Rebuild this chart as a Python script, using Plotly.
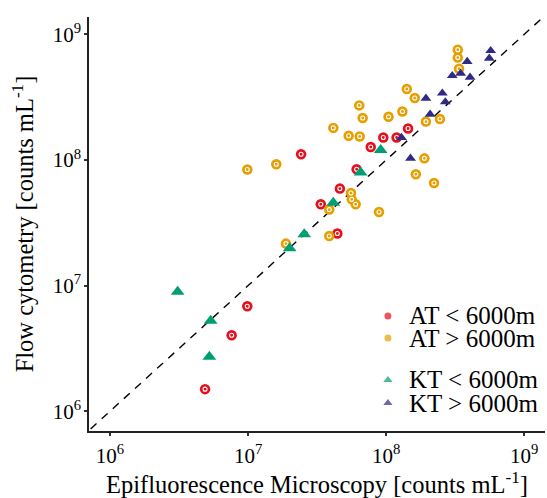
import plotly.graph_objects as go

# ---------------- data (counts per mL) ----------------
at_shallow_x = [4.88e6, 7.6e6, 9.87e6, 2.42e7, 3.36e7, 4.43e7, 4.62e7, 6.11e7, 7.73e7, 9.53e7, 1.19e8, 1.44e8]
at_shallow_y = [1.50e6, 4.03e6, 6.86e6, 1.11e8, 4.44e7, 2.60e7, 5.92e7, 8.43e7, 1.27e8, 1.51e8, 1.51e8, 1.78e8]

at_deep_x = [9.87e6, 1.60e7, 3.30e8, 3.30e8, 3.37e8, 1.41e8, 1.61e8, 6.38e7, 6.76e7, 1.31e8, 1.04e8, 1.94e8, 2.45e8,
             4.14e7, 5.35e7, 6.43e7, 1.89e8, 1.64e8, 2.22e8, 5.56e7, 5.63e7, 6.01e7, 3.87e7, 8.87e7, 3.87e7, 1.88e7]
at_deep_y = [8.39e7, 9.25e7, 7.55e8, 6.53e8, 5.33e8, 3.67e8, 3.11e8, 2.72e8, 2.16e8, 2.43e8, 2.21e8, 2.02e8, 2.12e8,
             1.80e8, 1.56e8, 1.54e8, 1.03e8, 7.69e7, 6.56e7, 5.46e7, 4.86e7, 4.44e7, 4.03e7, 3.86e7, 2.48e7, 2.16e7]

kt_shallow_x = [3.09e6, 5.36e6, 5.24e6, 9.12e7, 6.53e7, 4.14e7, 2.55e7, 2.00e7]
kt_shallow_y = [8.93e6, 5.26e6, 2.72e6, 1.20e8, 7.96e7, 4.57e7, 2.56e7, 1.98e7]

kt_deep_x = [5.71e8, 5.58e8, 3.86e8, 3.01e8, 3.46e8, 4.05e8, 1.94e8, 2.55e8, 2.68e8, 2.08e8, 1.29e8, 1.50e8]
kt_deep_y = [7.41e8, 6.44e8, 6.07e8, 4.69e8, 4.90e8, 4.55e8, 3.10e8, 3.40e8, 2.90e8, 2.31e8, 1.51e8, 1.03e8]

one_to_one = [5e5, 2e9]

tick_values = [1e6, 1e7, 1e8, 1e9]
tick_labels = ["10<sup>6</sup>", "10<sup>7</sup>", "10<sup>8</sup>", "10<sup>9</sup>"]

legend_labels = ["AT &lt; 6000m", "AT &gt; 6000m", "KT &lt; 6000m", "KT &gt; 6000m"]

# ---------------- styles ----------------
RED = "#E3101E"
ORANGE = "#E69F00"
GREEN = "#009E73"
NAVY = "#2E2A85"
FONT = "Liberation Serif"

fig = go.Figure()

fig.add_trace(go.Scatter(x=one_to_one, y=one_to_one, mode="lines",
                         line=dict(color="black", width=1.4, dash="8px,7px"),
                         hoverinfo="skip", showlegend=False))

def circles(x, y, color, name):
    fig.add_trace(go.Scatter(x=x, y=y, mode="markers", name=name, showlegend=False,
                             marker=dict(symbol="circle", size=10.5, color=color, line=dict(width=0))))
    fig.add_trace(go.Scatter(x=x, y=y, mode="markers", showlegend=False, hoverinfo="skip",
                             marker=dict(symbol="circle-open", size=4, color="white", line=dict(width=1.1, color="white"))))

circles(at_shallow_x, at_shallow_y, RED, "AT < 6000m")
circles(at_deep_x, at_deep_y, ORANGE, "AT > 6000m")
fig.add_trace(go.Scatter(x=kt_shallow_x, y=kt_shallow_y, mode="markers", name="KT < 6000m", showlegend=False,
                         marker=dict(symbol="triangle-up", size=12, color=GREEN, line=dict(width=0))))
fig.add_trace(go.Scatter(x=kt_deep_x, y=kt_deep_y, mode="markers", name="KT > 6000m", showlegend=False,
                         marker=dict(symbol="triangle-up", size=9.5, color=NAVY, line=dict(width=0))))

# legend keys (drawn on an invisible overlay axis in plot-fraction units)
legend_key_x = 0.6555
legend_rows = [0.2778, 0.2246, 0.1232, 0.0676]
fig.add_trace(go.Scatter(x=[legend_key_x] * 4, y=legend_rows, xaxis="x2", yaxis="y2", mode="markers",
                         hoverinfo="skip", showlegend=False,
                         marker=dict(symbol=["circle", "circle", "triangle-up", "triangle-up"],
                                     size=[7, 7, 8, 8], color=[RED, ORANGE, GREEN, NAVY], line=dict(width=0))))
for lab, yy in zip(legend_labels, legend_rows):
    fig.add_annotation(x=0.697, y=yy, xref="paper", yref="paper", text=lab, showarrow=False,
                       xanchor="left", yanchor="middle", font=dict(family=FONT, size=25, color="black"))

axis_common = dict(type="log", showgrid=False, zeroline=False, showline=True, linecolor="#222", linewidth=1.5,
                   ticks="outside", ticklen=3, tickwidth=2, tickcolor="#333",
                   tickvals=tick_values, ticktext=tick_labels,
                   tickfont=dict(family=FONT, size=21, color="black"), mirror=False)

fig.update_layout(
    width=547, height=498,
    margin=dict(l=89, r=2, t=17, b=67),
    paper_bgcolor="white", plot_bgcolor="white",
    font=dict(family=FONT, color="black"),
    xaxis=dict(range=[5.848, 9.150], ticklabelstandoff=2,
               title=dict(text="Epifluorescence Microscopy [counts mL<sup>-1</sup>]",
                          font=dict(family=FONT, size=24.5), standoff=6), **axis_common),
    yaxis=dict(range=[5.843, 9.138], ticklabelstandoff=-1,
               title=dict(text="Flow cytometry [counts mL<sup>-1</sup>]",
                          font=dict(family=FONT, size=24.5), standoff=12), **axis_common),
    xaxis2=dict(overlaying="x", range=[0, 1], visible=False, anchor="y2"),
    yaxis2=dict(overlaying="y", range=[0, 1], visible=False, anchor="x2"),
    showlegend=False,
)

fig.write_html("out.html")
